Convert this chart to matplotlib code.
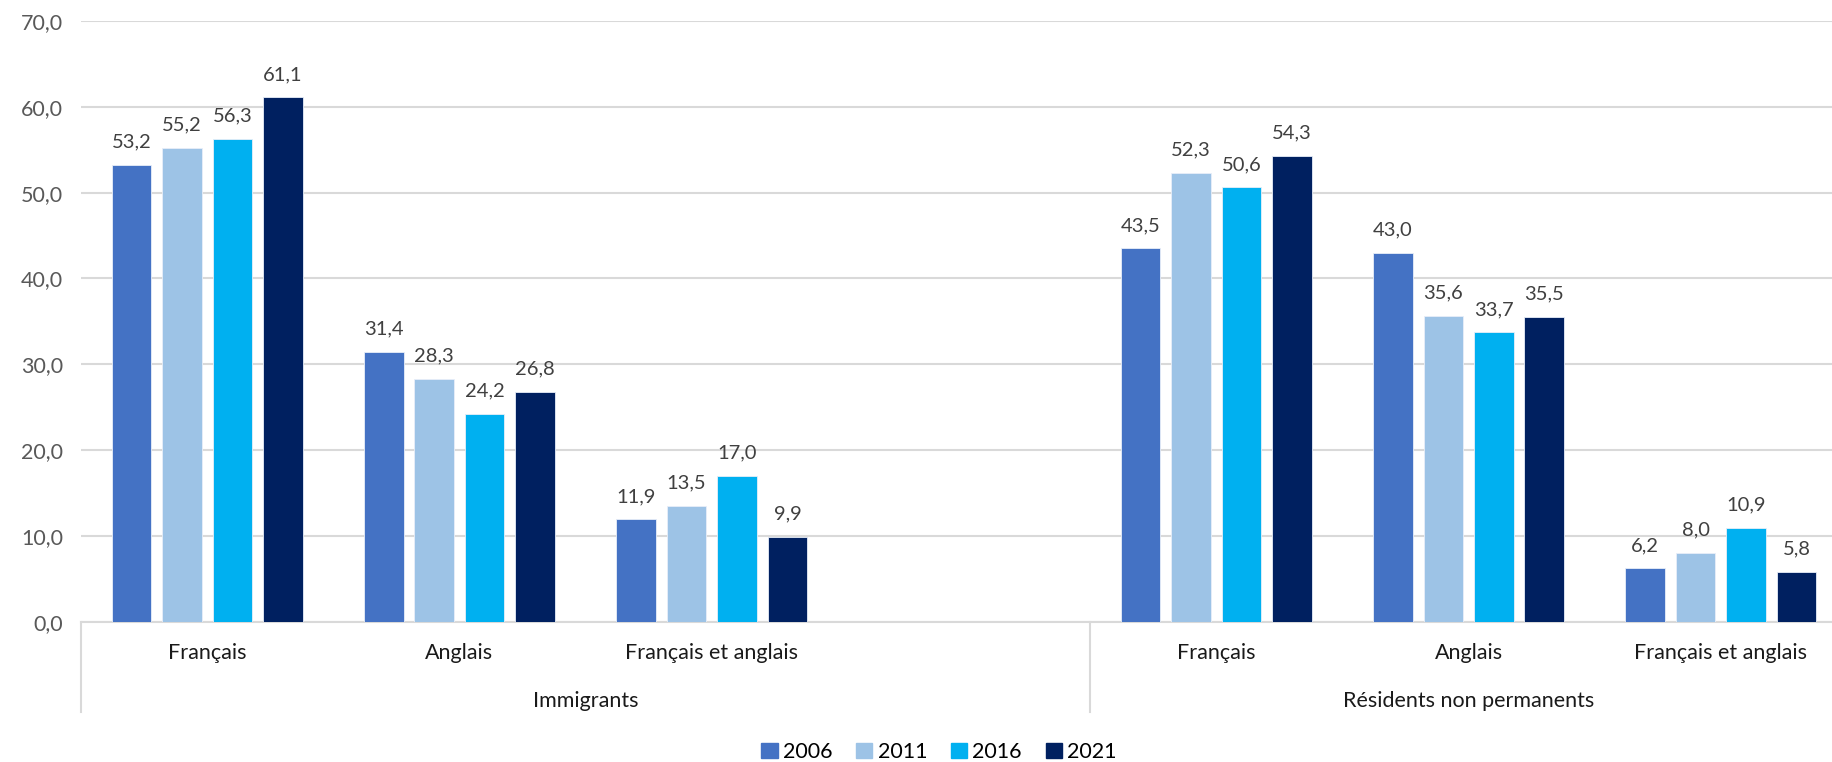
import numpy as np
import matplotlib.pyplot as plt
from matplotlib.lines import Line2D

plt.rcParams['font.family'] = ['Lato', 'DejaVu Sans']

years = ['2006', '2011', '2016', '2021']
colors = ['#4472C4', '#9DC3E6', '#00B0F0', '#002060']
langues = ['Français', 'Anglais', 'Français et anglais']
groupes = ['Immigrants', 'Résidents non permanents']

# valeurs (%) par année : Français, Anglais, Français et anglais
immigrants = {
    '2006': [53.2, 31.4, 11.9],
    '2011': [55.2, 28.3, 13.5],
    '2016': [56.3, 24.2, 17.0],
    '2021': [61.1, 26.8, 9.9],
}
residents = {
    '2006': [43.5, 43.0, 6.2],
    '2011': [52.3, 35.6, 8.0],
    '2016': [50.6, 33.7, 10.9],
    '2021': [54.3, 35.5, 5.8],
}

fig = plt.figure(figsize=(18.32, 7.62), dpi=100)
ax = fig.add_axes([81 / 1832, 1 - 621.6 / 762, 1766 / 1832, (621.6 - 21) / 762])

# Immigrants aux positions 0..2, une case vide, Résidents aux positions 4..6
pos_imm = np.arange(3) + 0.5
pos_res = np.arange(3) + 4.5
pitch = 0.2
width = 0.157

for i, y in enumerate(years):
    off = (i - 1.5) * pitch
    for pos, data in ((pos_imm, immigrants), (pos_res, residents)):
        vals = data[y]
        bars = ax.bar(pos + off, vals, width, color=colors[i],
                      edgecolor='#E8EEF8', linewidth=0.6, zorder=3)
        for b, v in zip(bars, vals):
            ax.annotate(f'{v:.1f}'.replace('.', ','),
                        (b.get_x() + b.get_width() / 2, v),
                        xytext=(0, 16.5), textcoords='offset points',
                        ha='center', va='center', fontsize=14.5, color='#404040')

ax.set_xlim(0, 7)
ax.set_ylim(0, 70)
ax.set_yticks(np.arange(0, 71, 10))
ax.set_yticklabels([f'{t:.1f}'.replace('.', ',') for t in np.arange(0, 71, 10)],
                   fontsize=15.5, color='#595959')
ax.tick_params(axis='y', length=0, pad=13)
ax.tick_params(axis='x', length=0)
ax.set_xticks([])
ax.grid(axis='y', color='#D9D9D9', linewidth=1.5, zorder=0)
for s in ['top', 'right', 'left']:
    ax.spines[s].set_visible(False)
ax.spines['bottom'].set_color('#D9D9D9')
ax.spines['bottom'].set_linewidth(1.5)

# axe des catégories à deux niveaux
trans = ax.get_xaxis_transform()
for p, lab in zip(list(pos_imm) + list(pos_res), langues * 2):
    ax.text(p, -0.053, lab, transform=trans, ha='center', va='center',
            fontsize=15.5, color='#1a1a1a')
ax.text(2.0, -0.132, groupes[0], transform=trans, ha='center', va='center',
        fontsize=15.5, color='#1a1a1a')
ax.text(5.5, -0.132, groupes[1], transform=trans, ha='center', va='center',
        fontsize=15.5, color='#1a1a1a')
for xv in (0, 4):
    ax.add_line(Line2D([xv, xv], [0, -0.15], transform=trans, color='#D9D9D9',
                       linewidth=1.5, clip_on=False))

handles = [plt.Rectangle((0, 0), 1, 1, color=c) for c in colors]
fig.legend(handles, years, loc='center', bbox_to_anchor=(939 / 1832, 1 - 752 / 762),
           ncol=4, frameon=False, fontsize=15.5, handlelength=0.75, handleheight=0.75,
           handletextpad=0.25, columnspacing=1.1)

fig.savefig('out.png', dpi=100)
